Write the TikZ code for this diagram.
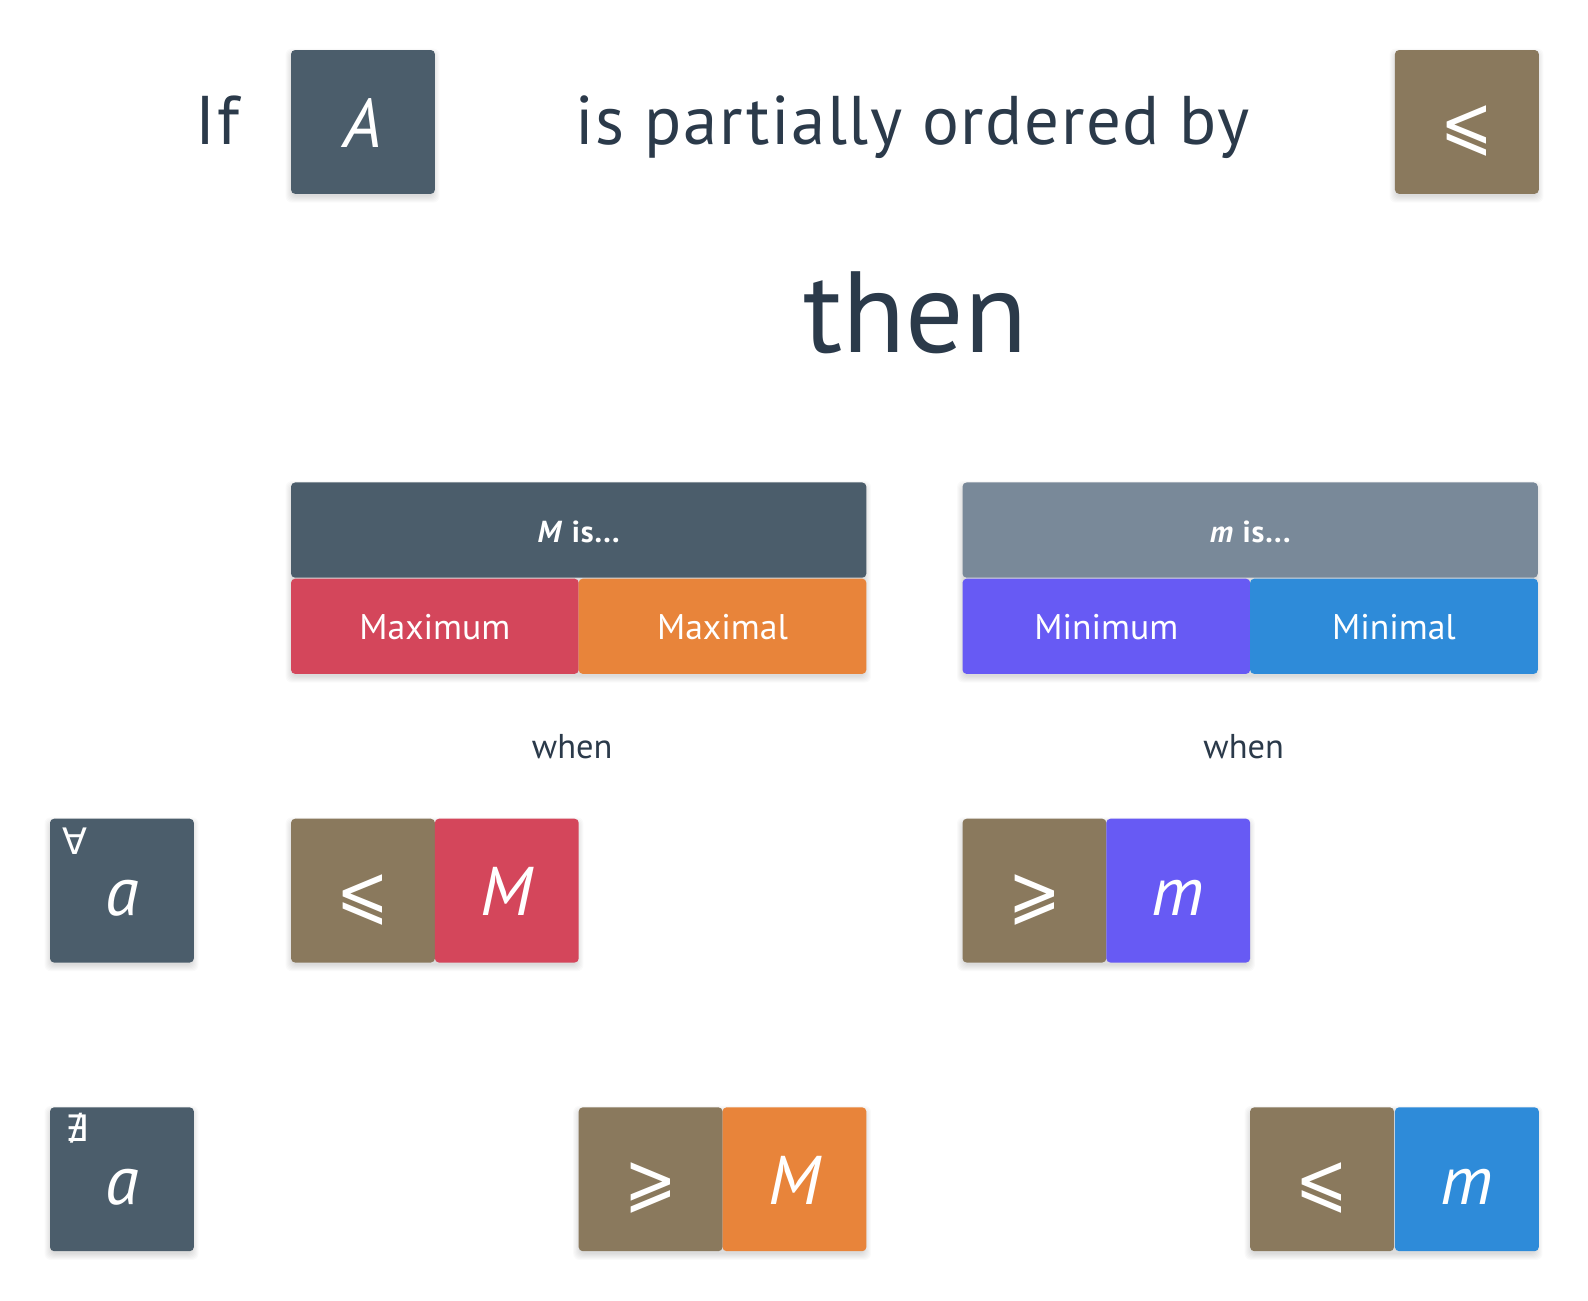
\documentclass[tikz,border=0pt]{standalone}
\usepackage{fontspec}
\setmainfont{PT Sans}
\newfontfamily\dejavu{DejaVu Sans}
\definecolor{slate}{HTML}{4B5D6B}
\definecolor{graysl}{HTML}{798999}
\definecolor{tan}{HTML}{8A795D}
\definecolor{redc}{HTML}{D4465B}
\definecolor{orangec}{HTML}{E8843A}
\definecolor{purplec}{HTML}{675AF4}
\definecolor{bluec}{HTML}{2E8BD9}
\definecolor{ink}{HTML}{2B3A4A}
% soft shadow: #1,#2 top-left, #3 width, #4 height (picture units)
\newcommand\myshadow[4]{%
  \foreach \e in {-1,0,...,5}{%
    \fill[black,opacity=0.02,rounded corners=3pt]
      ({#1-\e},{#2+4-\e}) rectangle ({#1+#3+\e},{#2+#4+4+\e});}}
\begin{document}
\begin{tikzpicture}[x=0.5pt,y=-0.5pt,
  tile/.style={rounded corners=2pt,inner sep=0pt,minimum width=71pt,minimum height=71pt,anchor=north west,text=white,font=\fontsize{34}{34}\selectfont\itshape,text height=25pt,text depth=0pt},
  hdr/.style={rounded corners=2pt,inner sep=0pt,minimum width=284pt,minimum height=47pt,anchor=north west,text=white,font=\fontsize{15}{15}\selectfont\bfseries\addfontfeatures{LetterSpace=3},text height=12pt,text depth=0pt},
  cell/.style={rounded corners=2pt,inner sep=0pt,minimum width=142pt,minimum height=47pt,anchor=north west,text=white,font=\fontsize{17.6}{17.6}\selectfont,text height=13pt,text depth=0pt},
  rel/.style={inner sep=0pt,text=white,font=\dejavu},
  quant/.style={inner sep=0pt,anchor=base west,text=white,font=\dejavu\fontsize{18}{18}\selectfont},
  big/.style={inner sep=0pt,anchor=base west,text=ink,font=\fontsize{34}{34}\selectfont\addfontfeatures{LetterSpace=2.3}},
  when/.style={inner sep=0pt,anchor=base,text=ink,font=\fontsize{17}{17}\selectfont}]
\useasboundingbox[fill=white] (0,0) rectangle (1568,1284);
% soft shadows behind the boxes
\myshadow{287}{49}{142}{142}
\myshadow{1377}{49}{142}{142}
\myshadow{287}{476}{568}{189}
\myshadow{950}{476}{568}{189}
\myshadow{49}{808}{142}{142}
\myshadow{287}{808}{284}{142}
\myshadow{950}{808}{284}{142}
\myshadow{49}{1093}{142}{142}
\myshadow{571}{1093}{284}{142}
\myshadow{1234}{1093}{284}{142}
% top line
\node[big] (if) at (193,143) {If};
\node[tile,fill=slate] (A) at (287,49) {A};
\node[big] (po) at (568,143) {is partially ordered by};
\node[tile,fill=tan] (rel0) at (1377,49) {};
\node[rel] (rel0g) at ([yshift=-4.5pt]rel0.center) {\resizebox*{26pt}{25pt}{⩽}};
\node[inner sep=0pt,anchor=base west,text=ink,font=\fontsize{57}{57}\selectfont] (then) at (793,348) {then};
% headers
\node[hdr,fill=slate] (Mh) at (287,476) {\textit{M} is...};
\node[cell,fill=redc] (Mmax) at (287,571) {Maximum};
\node[cell,fill=orangec] (Mmal) at (571,571) {Maximal};
\node[hdr,fill=graysl] (mh) at (950,476) {\textit{m} is...};
\node[cell,fill=purplec] (mmin) at (950,571) {Minimum};
\node[cell,fill=bluec] (mmal) at (1234,571) {Minimal};
\node[when] (w1) at (565,749) {when};
\node[when] (w2) at (1228,749) {when};
% row 1
\node[tile,fill=slate] (fa) at (49,808) {a};
\node[quant] (faq) at (61,844) {∀};
\node[tile,fill=tan] (r1) at (287,808) {};
\node[rel] (r1g) at ([yshift=-4.5pt]r1.center) {\resizebox*{26pt}{25pt}{⩽}};
\node[tile,fill=redc] (M1) at (429,808) {M};
\node[tile,fill=tan] (r2) at (950,808) {};
\node[rel] (r2g) at ([yshift=-4.5pt]r2.center) {\resizebox*{26pt}{25pt}{⩾}};
\node[tile,fill=purplec] (m1) at (1092,808) {m};
% row 2
\node[tile,fill=slate] (na) at (49,1093) {a};
\node[quant] (naq) at (64,1127) {∄};
\node[tile,fill=tan] (r3) at (571,1093) {};
\node[rel] (r3g) at ([yshift=-4.5pt]r3.center) {\resizebox*{26pt}{25pt}{⩾}};
\node[tile,fill=orangec] (M2) at (713,1093) {M};
\node[tile,fill=tan] (r4) at (1234,1093) {};
\node[rel] (r4g) at ([yshift=-4.5pt]r4.center) {\resizebox*{26pt}{25pt}{⩽}};
\node[tile,fill=bluec] (m2) at (1377,1093) {m};
\end{tikzpicture}
\end{document}
